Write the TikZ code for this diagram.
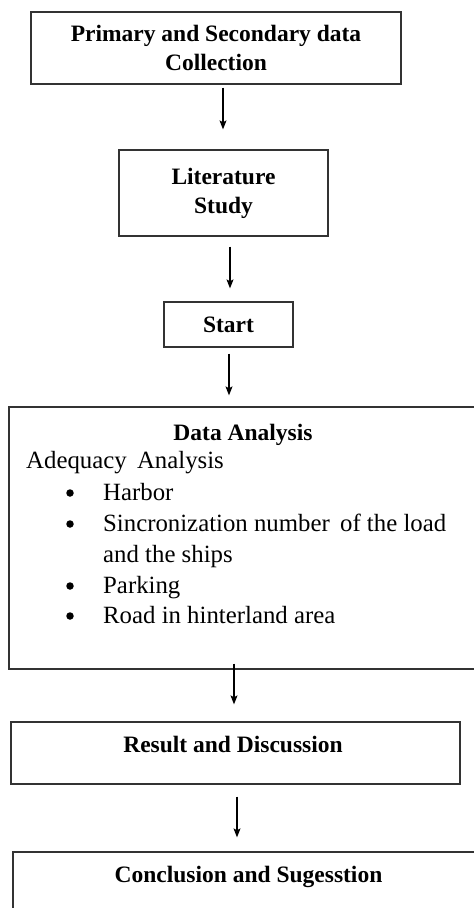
\documentclass[tikz,border=0pt]{standalone}
\usepackage{fontspec}
\setmainfont{Liberation Serif}
\usetikzlibrary{arrows.meta,positioning,calc}

\tikzset{
  box/.style={draw=black!80, line width=1.3pt, align=center, inner sep=0pt,
    font=\bfseries\fontsize{23.5}{29}\selectfont},
  head/.style={font=\bfseries\fontsize{23.5}{29}\selectfont, anchor=base, inner sep=0pt},
  item/.style={font=\fontsize{24.8}{30}\selectfont, anchor=base west, inner sep=0pt},
  dot/.style={circle, fill=black, inner sep=0pt, minimum size=7.5pt},
  arr/.style={-{Stealth[length=9pt,width=7pt,inset=2pt]}, line width=1.1pt}
}

\begin{document}
\begin{tikzpicture}[x=1pt,y=-1pt]
    \path[use as bounding box, clip] (0,0) rectangle (474,908);
    \node[box, minimum width=370pt, minimum height=72pt] (collection) at (216,48) {Primary and Secondary data\\Collection};
    \node[box, minimum width=209pt, minimum height=86pt] (literature) at (223.5,193) {Literature\\Study};
    \node[box, minimum width=129pt, minimum height=45pt] (start) at (228.5,324.5) {Start};
    \node[box, minimum width=468pt, minimum height=262pt] (analysis) at (243,538) {};
    \node[box, minimum width=449pt, minimum height=62pt] (result) at (235.5,753) {};
    \node[box, minimum width=471pt, minimum height=100pt] (conclusion) at (248.5,902) {};
% texts of the big boxes
    \node[head] (analysis-title) at (243,440) {Data Analysis};
    \node[item] (adequacy) at (26,468) {Adequacy\, Analysis};
    \node[dot] (dot1) at (70,493) {};
    \node[item] (harbor) at (103,500) {Harbor};
    \node[dot] (dot2) at (70,524) {};
    \node[item] (sync) at (103,531) {Sincronization number\, of the load};
    \node[item] (sync2) at (103,562) {and the ships};
    \node[dot] (dot3) at (70,586) {};
    \node[item] (parking) at (103,593) {Parking};
    \node[dot] (dot4) at (70,616) {};
    \node[item] (road) at (103,623) {Road in hinterland area};
    \node[head] (result-title) at (233,752) {Result and Discussion};
    \node[head] (conclusion-title) at (248.5,882) {Conclusion and Sugesstion};
% arrows
    \draw[arr] ($(collection.south)+(7,3)$) -- ($(literature.north)+(-0.5,-20)$);
    \draw[arr] ($(literature.south)+(6.5,10)$) -- ($(start.north)+(1.5,-13)$);
    \draw[arr] ($(start.south)+(0.5,6)$) -- ($(analysis.north)+(-14,-11)$);
    \draw[arr] ($(analysis.south)+(-9,-6)$) -- ($(result.north)+(-1.5,-17)$);
    \draw[arr] ($(result.south)+(1.5,12)$) -- ($(conclusion.north)+(-11.5,-14)$);
\end{tikzpicture}
\end{document}
